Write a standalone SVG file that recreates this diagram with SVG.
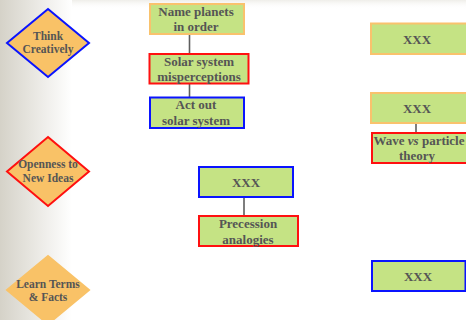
<svg xmlns="http://www.w3.org/2000/svg" width="466" height="320" viewBox="0 0 466 320">
<defs>
<linearGradient id="lg" x1="0" y1="0" x2="1" y2="0">
<stop offset="0" stop-color="#d5d2c8"/>
<stop offset="1" stop-color="#ffffff"/>
</linearGradient>
<linearGradient id="tg" x1="0" y1="0" x2="0" y2="1">
<stop offset="0" stop-color="#efeee9"/>
<stop offset="1" stop-color="#ffffff" stop-opacity="0"/>
</linearGradient>
<style>
.box{fill:#c5e384;stroke-width:2}
.dia{fill:#f9c267;stroke-width:2}
.o{stroke:#f9c26d}
.b{stroke:#0a14ff}
.r{stroke:#ff1010}
text{font-family:"Liberation Serif","Times New Roman",serif;font-weight:bold;fill:#555555;text-anchor:middle}
.t{font-size:13px}
.d{font-size:11.5px}
.con line{stroke:#5e5e5e;stroke-width:1.6}
</style>
</defs>
<rect width="466" height="320" fill="#ffffff"/>
<rect x="0" y="0" width="72" height="320" fill="url(#lg)"/>
<rect x="72" y="0" width="394" height="9" fill="url(#tg)"/>
<g id="connectors" class="con">
<line x1="189.5" y1="34" x2="189.5" y2="54"/>
<line x1="189.5" y1="84" x2="189.5" y2="97"/>
<line x1="244" y1="197" x2="244" y2="216"/>
<line x1="416" y1="123" x2="416" y2="133"/>
</g>
<g id="think-creatively">
<polygon class="dia b" points="48,9 89,43 48,77 7,43"/>
<text class="d" x="48" y="40">Think</text>
<text class="d" x="48" y="53">Creatively</text>
</g>
<g id="openness">
<polygon class="dia r" points="48,137 89,171.5 48,206 7,171.5"/>
<text class="d" x="48" y="168">Openness to</text>
<text class="d" x="48" y="182">New Ideas</text>
</g>
<g id="learn-terms">
<polygon class="dia" stroke="#f9c267" points="48,256 89,290 48,324 7,290"/>
<text class="d" x="48" y="288">Learn Terms</text>
<text class="d" x="48" y="301">&amp; Facts</text>
</g>
<g id="name-planets">
<rect class="box o" x="150" y="4" width="94" height="30"/>
<text class="t" x="196" y="16">Name planets</text>
<text class="t" x="196" y="31">in order</text>
</g>
<g id="misperceptions">
<rect class="box r" x="149.5" y="54" width="99" height="29.5"/>
<text class="t" x="199" y="66">Solar system</text>
<text class="t" x="199" y="81">misperceptions</text>
</g>
<g id="act-out">
<rect class="box b" x="150" y="97.5" width="94" height="30.5"/>
<text class="t" x="196" y="109">Act out</text>
<text class="t" x="196" y="125">solar system</text>
</g>
<g id="xxx-mid">
<rect class="box b" x="199" y="167" width="94" height="30"/>
<text class="t" x="246" y="187">XXX</text>
</g>
<g id="precession">
<rect class="box r" x="199" y="216" width="99" height="30"/>
<text class="t" x="248" y="228">Precession</text>
<text class="t" x="248" y="244">analogies</text>
</g>
<g id="xxx-top">
<rect class="box o" x="371" y="23.5" width="100" height="30.5"/>
<text class="t" x="417" y="44">XXX</text>
</g>
<g id="xxx-wave">
<rect class="box o" x="371" y="93" width="100" height="30"/>
<text class="t" x="417" y="113">XXX</text>
</g>
<g id="wave-particle">
<rect class="box r" x="372" y="133" width="100" height="30"/>
<text class="t" x="419" y="145">Wave <tspan style="font-style:italic">vs</tspan> particle</text>
<text class="t" x="417" y="160">theory</text>
</g>
<g id="xxx-bottom">
<rect class="box b" x="372" y="261" width="93.5" height="30"/>
<text class="t" x="418" y="281">XXX</text>
</g>
</svg>
